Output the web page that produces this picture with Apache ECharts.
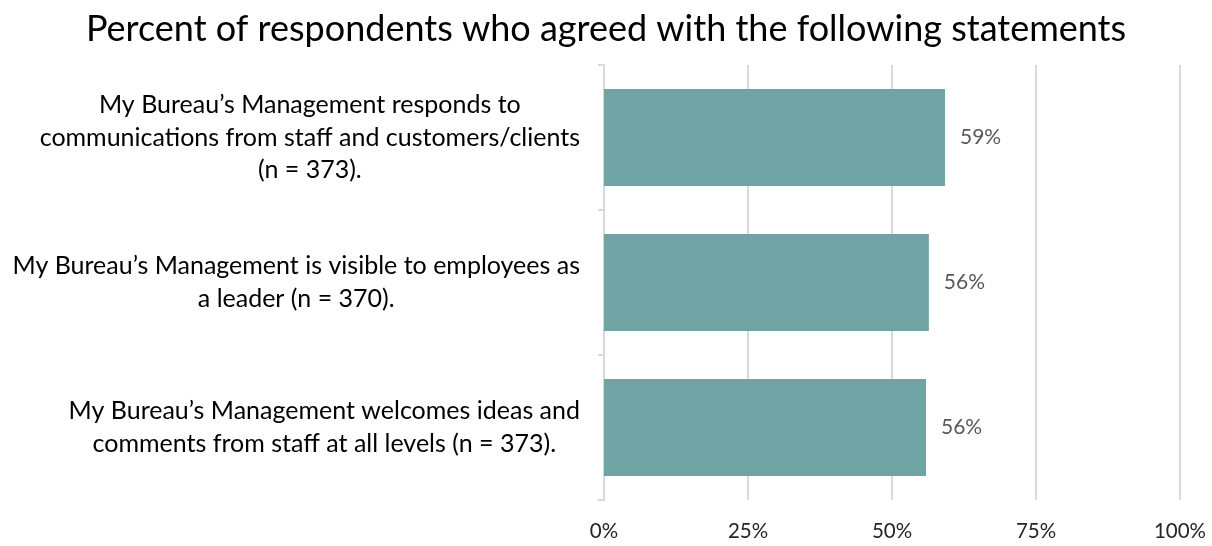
<!DOCTYPE html>
<html>
<head>
<meta charset="utf-8">
<script src="https://cdn.jsdelivr.net/npm/echarts@6/dist/echarts.min.js"></script>
<style>
  html, body { margin: 0; padding: 0; background: #ffffff; }
  #chart { width: 1212px; height: 546px; }
</style>
</head>
<body>
<div id="chart"></div>
<script>
// Survey statements (each entry is a list of display lines)
const statements = [
  ['My Bureau\u2019s Management responds to', 'communications from staff and customers/clients', '(n = 373).'],
  ['My Bureau\u2019s Management is visible to employees as', 'a leader (n = 370).'],
  ['My Bureau\u2019s Management welcomes ideas and', 'comments from staff at all levels (n = 373).']
];
// Percent agreeing
const agreePct = [59.2, 56.4, 55.9];
// Percent axis ticks
const pctTicks = [0, 25, 50, 75, 100];

const FONT = 'Lato, "Open Sans", sans-serif';
const chart = echarts.init(document.getElementById('chart'), null, { renderer: 'canvas' });

chart.setOption({
  backgroundColor: '#ffffff',
  animation: false,
  title: {
    text: 'Percent of respondents who agreed with the following statements',
    left: 'center',
    top: 6,
    textStyle: { fontFamily: FONT, fontSize: 36, fontWeight: 'normal', color: '#000000' }
  },
  grid: { left: 604, right: 32, top: 65, bottom: 46, containLabel: false },
  xAxis: {
    type: 'value',
    min: pctTicks[0],
    max: pctTicks[pctTicks.length - 1],
    interval: pctTicks[1] - pctTicks[0],
    axisLine: { show: false },
    axisTick: { show: false },
    splitLine: { show: true, lineStyle: { color: '#d9d9d9', width: 2 } },
    axisLabel: {
      formatter: '{value}%',
      margin: 21,
      fontFamily: FONT,
      fontSize: 20.5,
      color: '#262626'
    }
  },
  yAxis: {
    type: 'category',
    inverse: true,
    data: statements.map(s => s.join('\n')),
    axisLine: { show: true, lineStyle: { color: '#d9d9d9', width: 2 } },
    axisTick: { show: true, length: 6, lineStyle: { color: '#d9d9d9', width: 2 } },
    splitLine: { show: false },
    axisLabel: {
      margin: 24,
      formatter: v => v.split('\n').map(l => '{c|' + l + '}').join('\n'),
      rich: {
        c: { align: 'center', fontFamily: FONT, fontSize: 25, lineHeight: 32.5, color: '#000000' }
      }
    }
  },
  series: [{
    type: 'bar',
    data: agreePct,
    barWidth: '67%',
    itemStyle: { color: '#70a3a3' },
    label: {
      show: true,
      position: 'right',
      distance: 15,
      formatter: p => Math.round(p.value) + '%',
      fontFamily: FONT,
      fontSize: 21,
      color: '#595959'
    }
  }]
});
</script>
</body>
</html>
